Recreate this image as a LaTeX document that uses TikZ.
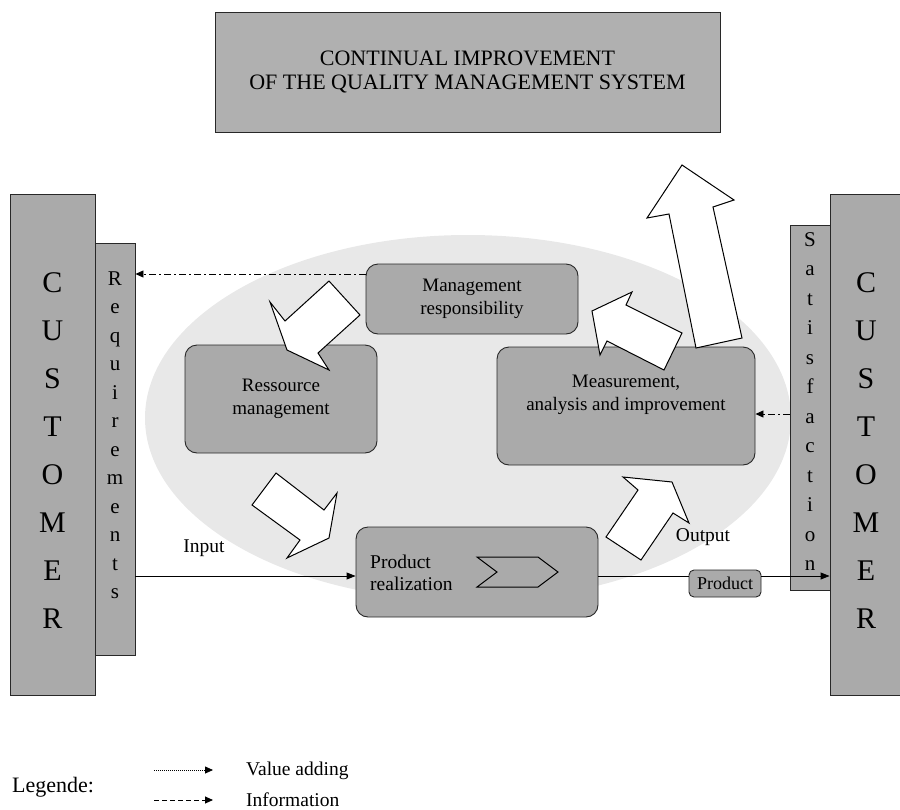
\documentclass[tikz,border=0pt]{standalone}
\usepackage{fontspec}
\setmainfont{Liberation Serif}
\usetikzlibrary{arrows.meta}
\definecolor{boxgray}{RGB}{170,170,170}
\definecolor{topgray}{RGB}{176,176,176}
\definecolor{ellgray}{RGB}{232,232,232}
\definecolor{edge}{RGB}{40,40,40}
\tikzset{
  bar/.style={draw=edge, line width=0.9pt, fill=boxgray, inner sep=0pt},
  procbox/.style={draw=edge, line width=0.9pt, fill=boxgray, rounded corners=12pt, inner sep=0pt, align=center, font=\fontsize{19}{22.5}\selectfont},
  fatarrow/.style={draw=black, line width=1pt, fill=white, line join=miter},
  bigletter/.style={inner sep=0pt, anchor=base, font=\fontsize{30}{30}\selectfont},
  smallletter/.style={inner sep=0pt, anchor=base, font=\fontsize{21}{21}\selectfont},
  flow/.style={line width=0.9pt, -{Triangle[length=9pt,width=7pt]}},
  info/.style={line width=0.9pt, dash pattern=on 7pt off 3pt on 2pt off 3pt, -{Triangle[length=8pt,width=7pt]}},
  lbl/.style={inner sep=0pt, font=\fontsize{19.5}{19.5}\selectfont},
}
\begin{document}
\begin{tikzpicture}[x=1pt,y=-1pt]
\useasboundingbox (0,0) rectangle (900,809);
% background ellipse
\fill[ellgray] (468,418) ellipse [x radius=323pt, y radius=183pt];

% top box
\node[bar, fill=topgray, minimum width=505pt, minimum height=120pt, align=center,
      font=\fontsize{22}{24}\selectfont] (top) at (467.5,72)
      {CONTINUAL IMPROVEMENT\\OF THE QUALITY MANAGEMENT SYSTEM};

% customer bars
\node[bar, minimum width=85pt, minimum height=501pt] (custL) at (52.5,444.5) {};
\node[bar, minimum width=40pt, minimum height=412pt] (req) at (115,449) {};
\node[bar, minimum width=40pt, minimum height=365pt] (sat) at (810,407.5) {};
\node[bar, minimum width=72pt, minimum height=501pt] (custR) at (866,444.5) {};

\foreach \ch [count=\i from 0] in {C,U,S,T,O,M,E,R} {
  \node[bigletter] (cl\i) at (52.5,292+48*\i) {\ch};
  \node[bigletter] (cr\i) at (866,292+48*\i) {\ch};
}
\foreach \ch [count=\i from 0] in {R,e,q,u,i,r,e,m,e,n,t,s} {
  \node[smallletter] (rq\i) at (115,285+28.5*\i) {\ch};
}
\foreach \ch [count=\i from 0] in {S,a,t,i,s,f,a,c,t,i,o,n} {
  \node[smallletter] (st\i) at (810,246+29.5*\i) {\ch};
}

% process boxes
\node[procbox, minimum width=212pt, minimum height=70pt] (mgmt) at (472,299) {Management\\responsibility};
\node[procbox, minimum width=192pt, minimum height=108pt] (res) at (281,399) {Ressource\\management};
\node[procbox, minimum width=258pt, minimum height=118pt] (meas) at (626,406) {};
\node[inner sep=0pt, align=center, font=\fontsize{19}{22.5}\selectfont] (meastxt) at (626,395) {Measurement,\\analysis and improvement};
\node[procbox, minimum width=242pt, minimum height=90pt] (prod) at (477,572) {};
\node[lbl, anchor=base west, align=left, font=\fontsize{19.5}{22}\selectfont] (prodtxt) at (370,590) {Product\\realization};
\node[procbox, rounded corners=5pt, minimum width=72pt, minimum height=27pt, font=\fontsize{18}{18}\selectfont] (product) at (725,583.5) {Product};

% chevron inside product realization
\draw[line width=1pt, fill=boxgray] (477,557) -- (538,557) -- (558,572) -- (538,587) -- (477,587) -- (497,572) -- cycle;

% fat arrows
\draw[fatarrow] (270,302) -- (287,350) -- (329,370) -- (318,353) -- (360,315) -- (329,281) -- (285,321) -- cycle;
\draw[fatarrow] (592,311) -- (632,292) -- (626,305) -- (682,333) -- (664,370) -- (607,341) -- (600,355) -- cycle;
\draw[fatarrow] (682,165) -- (734,200) -- (713,207) -- (742,338) -- (696,348) -- (669,214) -- (647,218) -- cycle;
\draw[fatarrow] (276,473) -- (252,505) -- (300,540) -- (287,558) -- (329,538) -- (337,493) -- (324,510) -- cycle;
\draw[fatarrow] (623,477) -- (672,482) -- (689,523) -- (673,513) -- (641,560) -- (606,537) -- (638,490) -- cycle;

% flow lines
\draw[flow] (req.east |- 0,576) -- (prod.west |- 0,576);
\draw[line width=0.9pt] (prod.east |- 0,576) -- (product.west |- 0,576);
\draw[flow] (product.east |- 0,576) -- (custR.west |- 0,576);
\node[lbl] (input) at (204,548) {Input};
\node[lbl] (output) at (703,537) {Output};

% information lines
\draw[info] (mgmt.west |- 0,274) -- (req.east |- 0,274);
\draw[info] (sat.west |- 0,414) -- (meas.east |- 0,414);

% legend
\node[lbl, anchor=base west, font=\fontsize{22}{22}\selectfont] (leg) at (12,792) {Legende:};
\coordinate (va1) at (154,770);
\coordinate (va2) at (213,770);
\coordinate (in1) at (154,800);
\coordinate (in2) at (213,800);
\draw[line width=0.8pt, dash pattern=on 1pt off 1pt, -{Triangle[length=8pt,width=7pt]}] (va1) -- (va2);
\draw[line width=0.9pt, dash pattern=on 5pt off 3pt, -{Triangle[length=8pt,width=7pt]}] (in1) -- (in2);
\node[lbl, anchor=base west, font=\fontsize{19.5}{19.5}\selectfont] (vatxt) at (246,775) {Value adding};
\node[lbl, anchor=base west, font=\fontsize{19.5}{19.5}\selectfont] (intxt) at (246,806) {Information};
\end{tikzpicture}
\end{document}
